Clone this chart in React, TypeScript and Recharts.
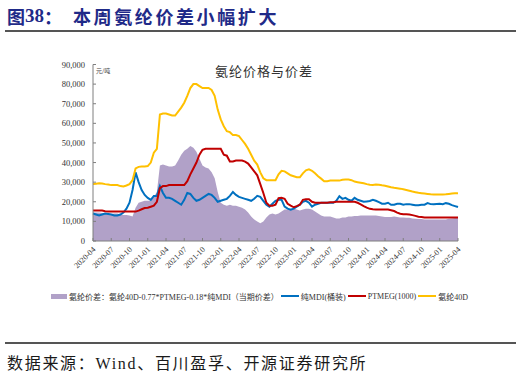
import React from "react";
import { ComposedChart, Area, Line, XAxis, YAxis } from "recharts";

// Half-month sampling from 2020-04 to 2025-04 (121 points)
const tickLabels = [
  "2020-04", "2020-07", "2020-10", "2021-01", "2021-04", "2021-07", "2021-10",
  "2022-01", "2022-04", "2022-07", "2022-10", "2023-01", "2023-04", "2023-07",
  "2023-10", "2024-01", "2024-04", "2024-07", "2024-10", "2025-01", "2025-04",
];

const spandex40D = [
  29000, 29200, 29500, 29300, 29000, 28800, 28500, 28500, 28500, 28000,
  27800, 28300, 29000, 31000, 37000, 37800, 38000, 38000, 38200, 40000,
  45000, 47000, 64500, 65000, 65000, 64500, 64000, 64000, 66000, 68000,
  70500, 74000, 78000, 80000, 80000, 79000, 78000, 78000, 78000, 77000,
  74000, 67000, 62000, 58500, 56000, 55500, 54000, 54000, 53500, 51500,
  49500, 47000, 44000, 41000, 39000, 35000, 32000, 31000, 31000, 31000,
  31000, 34000, 35800, 35500, 34500, 33500, 33000, 32500, 32500, 34500,
  36000, 36500, 35800, 34500, 33000, 31800, 30500, 30500, 30800, 30800,
  30800, 30800, 31200, 31300, 31300, 31000, 30300, 30000, 29700, 29400,
  29000, 28700, 28600, 28800, 28700, 28400, 28200, 27800, 27400, 27100,
  26900, 26700, 26400, 26000, 25600, 25200, 24900, 24600, 24400, 24200,
  24000, 23800, 23700, 23700, 23700, 23700, 23800, 24000, 24200, 24300,
  24400,
];

const ptmeg = [
  15500, 15500, 15500, 15500, 15200, 15000, 15000, 15000, 15000, 15000,
  15000, 15000, 15000, 15000, 15000, 15500, 16200, 16800, 17000, 17500,
  18000, 20000, 27000, 28000, 28000, 28500, 28500, 28500, 28500, 28500,
  28500, 30500, 34000, 37000, 40000, 44000, 46500, 47000, 47000, 47000,
  47000, 47000, 47000, 44000, 43500, 40500, 40500, 41000, 41000, 41000,
  40500, 39500, 37500, 35500, 33500, 29000, 24500, 19500, 18000, 18000,
  18500, 21800, 22000, 21500, 19000, 18000, 17200, 17800, 18500, 21000,
  21300, 21300, 20000, 19500, 19500, 19500, 19500, 19500, 19700, 19800,
  20000, 20000, 20000, 20000, 20000, 20000, 20000, 19500, 18700, 17800,
  17000, 16400, 16200, 16100, 16000, 16000, 16000, 16000, 15700, 15300,
  14500, 13900, 13700, 13600, 13500, 13200, 12800, 12400, 12200, 12000,
  12000, 12000, 12000, 12000, 12000, 12000, 12000, 12000, 12000, 12000,
  12000,
];

const mdi = [
  14000, 13500, 13000, 13500, 14000, 13800, 13500, 13000, 13000, 13500,
  14500, 16500, 19500, 26000, 35000, 30000, 26000, 23500, 22000, 21000,
  23000, 23000, 28000, 24500, 22000, 22000, 21500, 20500, 19500, 18500,
  21000, 24500, 24000, 22000, 20500, 21000, 22000, 23000, 24000, 23500,
  22000, 20000, 20500, 21000, 21500, 23000, 25000, 23500, 22500, 22000,
  21500, 21000, 20500, 21500, 23000, 22500, 20500, 18500, 17500, 19000,
  20500, 21000, 21000, 17500, 16500, 16000, 16500, 17500, 18500, 20000,
  20500, 19500, 17500, 18500, 19000, 19500, 19500, 19500, 19500, 19500,
  20500, 22800, 21500, 22000, 21000, 20500, 22000, 21000, 20500, 20000,
  20200, 20400, 21000, 20500, 19800, 19000, 19000, 19500, 18500, 18500,
  19000, 19000, 18500, 18800, 18800, 18500, 18200, 18200, 18500, 18500,
  19300, 18800, 18700, 18900, 19000, 18800, 19300, 19000, 18300, 17800,
  17300,
];

const spread = [
  14500, 14500, 14500, 14300, 14300, 14000, 13800, 14000, 14000, 13500,
  13200, 13200, 13000, 12500, 17000, 19500, 20000, 20500, 20500, 20500,
  22500, 25000, 38500, 39000, 38500, 38000, 38000, 38500, 41000, 44000,
  46000, 47000, 48500, 47500, 45500, 42000, 38500, 37500, 37000, 35000,
  32000, 25000, 19500, 18500, 18000, 18500, 18000, 18000, 17500, 17000,
  16000, 14500, 12500, 11000, 10000, 9000, 10000, 12000, 13500, 14000,
  13500, 14000, 15000, 16000, 16000, 16500, 16500, 16000, 15500, 16000,
  16500, 16500, 16000, 15000, 14000, 13000, 12500, 12500, 12500, 12000,
  11500, 11500, 12000, 12000, 12500, 12500, 12800, 12800, 13000, 13000,
  13000, 13000, 13000, 13000, 12800, 12500, 12300, 12300, 12300, 12500,
  12300, 12000, 12000, 11800, 11800, 11500, 11300, 11200, 11200, 11000,
  11000, 10900, 10900, 10900, 11000, 11000, 11000, 11300, 11500, 11700,
  11800,
];

const yTicks = [0, 10000, 20000, 30000, 40000, 50000, 60000, 70000, 80000, 90000];
const xTicks = tickLabels.map((_, i) => i * 3);

const data = spread.map((v, i) => ({
  t: i / 2,
  spread: v,
  mdi: mdi[i],
  ptmeg: ptmeg[i],
  y40: spandex40D[i],
}));

const SERIF = "'Liberation Serif', 'Times New Roman', serif";
const CJK = "'Noto Sans CJK SC', sans-serif";
const MIX = "'Liberation Serif', 'Noto Sans CJK SC', serif";

const fmt = (v: number) => (v === 0 ? "0" : v.toLocaleString("en-US"));

const YTick = (props: any) => {
  const { x, y, payload } = props;
  return (
    <g>
      <line x1={x} x2={x + 3} y1={y} y2={y} stroke="#7f7f7f" strokeWidth={1} />
      <text x={x - 8} y={y} textAnchor="end" dominantBaseline="central" fontSize={8.5} fill="#333" fontFamily={SERIF}>
        {fmt(payload.value)}
      </text>
    </g>
  );
};

const XTick = (props: any) => {
  const { x, y, payload } = props;
  const idx = Math.round(payload.value / 3);
  const ax = x + 3;
  const ay = y + 9;
  return (
    <g>
      <line x1={x} x2={x} y1={y} y2={y - 3} stroke="#7f7f7f" strokeWidth={1} />
      <text x={ax} y={ay} transform={`rotate(-45 ${ax} ${ay})`} textAnchor="end" fontSize={8} fill="#333" fontFamily={SERIF}>
        {tickLabels[idx]}
      </text>
    </g>
  );
};

const legendItems = [
  { label: "氨纶价差：氨纶40D-0.77*PTMEG-0.18*纯MDI（当期价差）", color: "#B1A1C8", kind: "area" },
  { label: "纯MDI(桶装)", color: "#0070C0", kind: "line" },
  { label: "PTMEG(1000)", color: "#C00000", kind: "line" },
  { label: "氨纶40D", color: "#FFC000", kind: "line" },
];

export default function App() {
  return (
    <div style={{ position: "absolute", left: 0, top: 0, width: 521, height: 374, background: "#fff", overflow: "hidden" }}>
      {/* Header */}
      <div style={{ position: "absolute", left: 7, top: 4, height: 24, display: "flex", alignItems: "center", color: "#1F2A88", fontWeight: 700, fontSize: 18, whiteSpace: "nowrap" }}>
        <span style={{ fontFamily: CJK }}>图</span>
        <span style={{ fontFamily: SERIF, fontSize: 19 }}>38</span>
        <span style={{ fontFamily: CJK }}>：</span>
        <span style={{ fontFamily: CJK, letterSpacing: 2.6, marginLeft: 11 }}>本周氨纶价差小幅扩大</span>
      </div>
      <div style={{ position: "absolute", left: 5, top: 30, width: 511, height: 2, background: "#555" }} />

      <ComposedChart width={521} height={374} data={data} margin={{ top: 64.5, right: 63, bottom: 103, left: 0 }} style={{ position: "absolute", left: 0, top: 0 }}>
        <XAxis
          dataKey="t"
          type="number"
          domain={[0, 60]}
          ticks={xTicks}
          interval={0}
          height={30}
          tickLine={false}
          tickSize={0}
          tickMargin={0}
          tick={<XTick />}
          axisLine={{ stroke: "#7f7f7f" }}
        />
        <YAxis
          type="number"
          domain={[0, 90000]}
          ticks={yTicks}
          interval={0}
          width={93}
          tickLine={false}
          tickSize={0}
          tickMargin={0}
          tick={<YTick />}
          axisLine={{ stroke: "#7f7f7f" }}
        />
        <Area type="linear" dataKey="spread" fill="#B1A1C8" fillOpacity={1} stroke="none" isAnimationActive={false} />
        <Line type="linear" dataKey="mdi" stroke="#0070C0" strokeWidth={2} dot={false} isAnimationActive={false} />
        <Line type="linear" dataKey="ptmeg" stroke="#C00000" strokeWidth={2} dot={false} isAnimationActive={false} />
        <Line type="linear" dataKey="y40" stroke="#FFC000" strokeWidth={2} dot={false} isAnimationActive={false} />
      </ComposedChart>

      {/* Chart title and unit */}
      <div style={{ position: "absolute", left: 164, width: 200, top: 61, textAlign: "center", fontFamily: CJK, fontSize: 13, letterSpacing: 1, color: "#333", whiteSpace: "nowrap" }}>
        氨纶价格与价差
      </div>
      <div style={{ position: "absolute", left: 96, top: 66, fontFamily: CJK, fontSize: 6, color: "#444", whiteSpace: "nowrap" }}>元/吨</div>

      {/* Legend */}
      <div style={{ position: "absolute", left: 0, width: 521, top: 289, height: 14, display: "flex", justifyContent: "center", alignItems: "center", fontFamily: MIX, fontSize: 8, color: "#333", whiteSpace: "nowrap" }}>
        {legendItems.map((it) => (
          <div key={it.label} style={{ display: "flex", alignItems: "center", marginRight: 2 }}>
            <span
              style={{
                display: "inline-block",
                width: it.kind === "area" ? 16 : 18,
                height: it.kind === "area" ? 5 : 2,
                background: it.color,
                marginRight: 2,
              }}
            />
            <span>{it.label}</span>
          </div>
        ))}
      </div>

      {/* Footer */}
      <div style={{ position: "absolute", left: 5, top: 342, width: 511, height: 2, background: "#555" }} />
      <div style={{ position: "absolute", left: 7, top: 350, fontFamily: MIX, fontSize: 16, letterSpacing: 1.7, color: "#1a1a1a", whiteSpace: "nowrap" }}>
        数据来源：Wind、百川盈孚、开源证券研究所
      </div>
    </div>
  );
}
